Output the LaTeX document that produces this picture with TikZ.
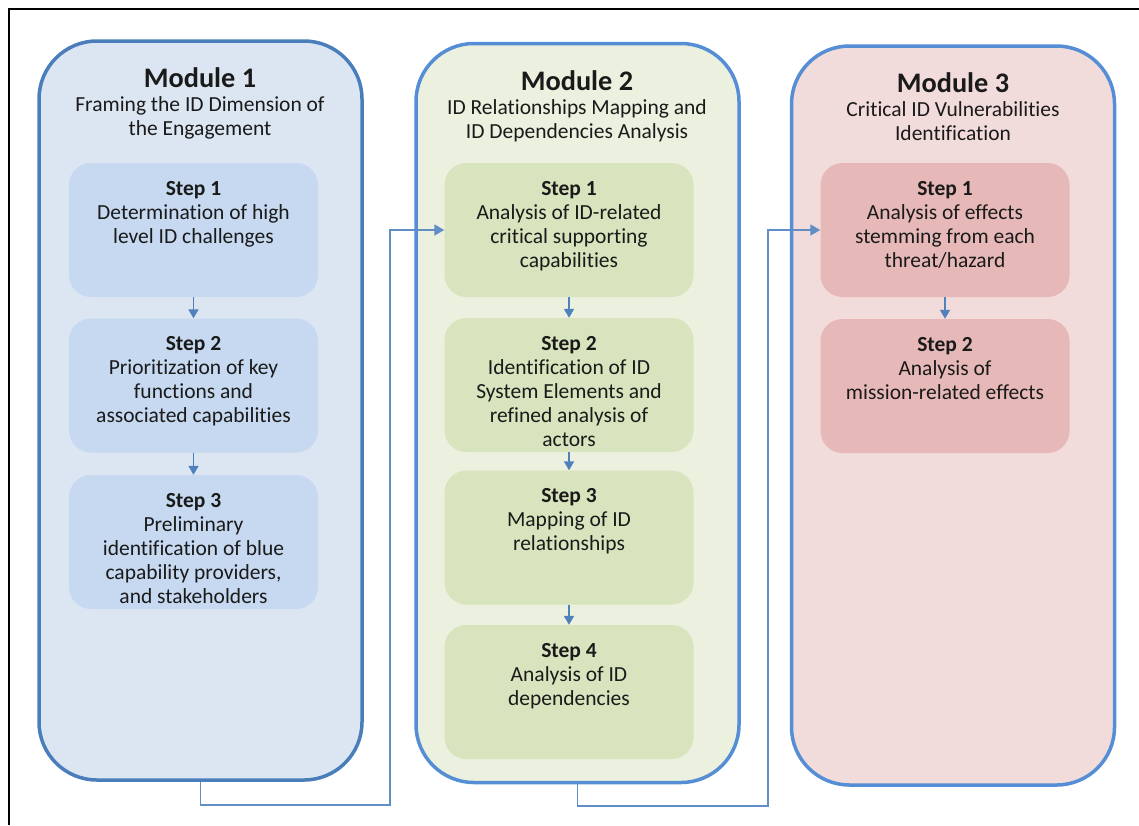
\documentclass[tikz,border=0pt]{standalone}
\usepackage{fontspec}
\setmainfont{Carlito}[Ligatures=NoCommon]
\usetikzlibrary{arrows.meta}

\definecolor{borderOne}{HTML}{4A7EBB}
\definecolor{borderTwo}{HTML}{558ED5}
\definecolor{fillOne}{HTML}{DCE6F2}
\definecolor{fillTwo}{HTML}{EBF1DE}
\definecolor{fillThree}{HTML}{F2DCDB}
\definecolor{stepOne}{HTML}{C6D9F1}
\definecolor{stepTwo}{HTML}{D7E4BD}
\definecolor{stepThree}{HTML}{E6B9B8}
\definecolor{arrowBlue}{HTML}{4F81BD}
\definecolor{textDark}{HTML}{1A1A1A}

\newcommand{\steptext}[2]{\parbox[c][98pt][t]{245pt}{\centering\textbf{Step #1}\\#2}}

\begin{document}
\begin{tikzpicture}
[x=1pt,y=-1pt,
  moduleDecorate/.style={rectangle,rounded corners=58pt,line width=3.5pt,
    minimum width=323pt,minimum height=739pt,inner sep=0pt},
  stepDecorate/.style={rectangle,rounded corners=22pt,minimum width=249pt,
    minimum height=134pt,inner sep=0pt,text=textDark,
    font=\fontsize{21.5}{24}\selectfont},
  titleDecorate/.style={align=center,inner sep=0pt,text=textDark,
    font=\fontsize{21.5}{24}\selectfont},
  stepArrow/.style={draw=arrowBlue,fill=arrowBlue,line width=1.8pt,
    -{Triangle[length=9pt,width=10pt]}},
  linkArrow/.style={draw=arrowBlue!90!white,line width=1.8pt,
    -{Triangle[length=10pt,width=11pt]}}]
\useasboundingbox (0,0) rectangle (1139,825);

%% frame
\draw[line width=1.2pt] (9,825) -- (9,9) -- (1139,9);

%% modules
\node (m1) at (200.5,410.5) [moduleDecorate,draw=borderOne,fill=fillOne] {};
\node (m2) at (577.5,413) [moduleDecorate,draw=borderTwo,fill=fillTwo] {};
\node (m3) at (953,415.5) [moduleDecorate,draw=borderTwo,fill=fillThree] {};

%% module titles
\node (m1t) at (200,67) [titleDecorate,anchor=north]
  {{\fontsize{28.3}{31}\selectfont\bfseries Module 1}\\Framing the ID Dimension of\\the Engagement};
\node (m2t) at (577,70) [titleDecorate,anchor=north]
  {{\fontsize{28.3}{31}\selectfont\bfseries Module 2}\\ID Relationships Mapping and\\ID Dependencies Analysis};
\node (m3t) at (953,72) [titleDecorate,anchor=north]
  {{\fontsize{28.3}{31}\selectfont\bfseries Module 3}\\Critical ID Vulnerabilities\\Identification};

%% steps
\foreach \nodename/\y/\n/\txt in {m1s1/230/1/{Determination of high\\level ID challenges},
    m1s2/385.5/2/{Prioritization of key\\functions and\\associated capabilities},
    m1s3/542/3/{Preliminary\\identification of blue\\capability providers,\\and stakeholders}} {
  \node (\nodename) at (193.5,\y) [stepDecorate,fill=stepOne] {\steptext{\n}{\txt}};
}
\foreach \nodename/\y/\n/\txt in {m2s1/230/1/{Analysis of ID-related\\critical supporting\\capabilities},
    m2s2/385/2/{Identification of ID\\System Elements and\\refined analysis of\\actors},
    m2s3/537.5/3/{Mapping of ID\\relationships},
    m2s4/692/4/{Analysis of ID\\dependencies}} {
  \node (\nodename) at (569,\y) [stepDecorate,fill=stepTwo] {\steptext{\n}{\txt}};
}
\foreach \nodename/\y/\n/\txt in {m3s1/230/1/{Analysis of effects\\stemming from each\\threat/hazard},
    m3s2/386/2/{Analysis of\\mission-related effects}} {
  \node (\nodename) at (945,\y) [stepDecorate,fill=stepThree] {\steptext{\n}{\txt}};
}

%% arrows between steps
\foreach \startnode/\endnode in {m1s1/m1s2, m1s2/m1s3, m2s1/m2s2, m2s2/m2s3, m2s3/m2s4, m3s1/m3s2} {
  \draw[stepArrow] (\startnode) -- (\endnode);
}

%% links between modules
\coordinate (turn1) at (390,805);
\coordinate (turn2) at (768,806);
\draw[linkArrow] (m1.south) |- (turn1) |- (m2s1.west);
\draw[linkArrow] (m2.south) |- (turn2) |- (m3s1.west);
\end{tikzpicture}
\end{document}
